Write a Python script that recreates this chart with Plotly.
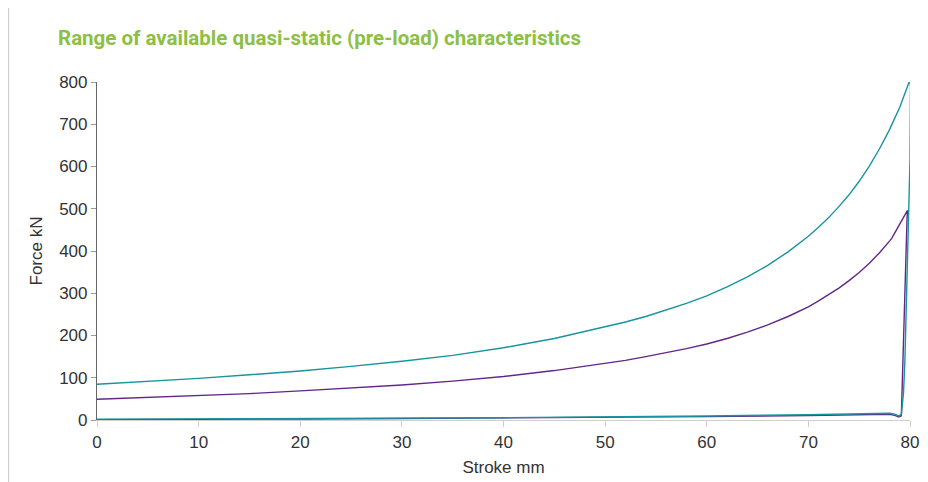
import plotly.graph_objects as go

# ---- data ----
# Teal series: upper (loading) curve, steep ramp, lower (return) line
teal_upper_x = [0, 5, 10, 15, 20, 25, 30, 35, 40, 45, 50, 52, 54, 56, 58, 60, 62, 64, 66, 68, 70, 71, 72, 73, 74, 75, 76, 77, 78, 79.0, 79.4, 79.7, 79.9, 80.0]
teal_upper_y = [84.5, 91, 98.5, 107, 116, 127, 139, 153, 171, 193, 220, 232, 245, 260, 276, 294, 315, 339, 366, 398, 435, 456, 479, 505, 533, 565, 601, 642, 688, 741, 768, 788, 799, 801]
teal_ramp_x = [80.05, 80.0, 79.8, 79.5, 79.36, 79.15]
teal_ramp_y = [790, 615, 400, 142, 64, 14]
teal_lower_x = [78.9, 78.5, 78, 75, 70, 60, 50, 40, 30, 20, 10, 0]
teal_lower_y = [9.5, 14, 16, 14.5, 12.5, 9.5, 7, 5.5, 4.5, 3.5, 2.5, 2]

# Purple series
purple_upper_x = [0, 5, 10, 15, 20, 25, 30, 35, 40, 45, 50, 52, 54, 56, 58, 60, 62, 64, 66, 68, 70, 71, 72, 73, 74, 75, 76, 77, 78, 78.2, 78.6, 79.0, 79.3, 79.55, 79.75]
purple_upper_y = [49, 53, 57.5, 62.5, 69, 75.5, 83, 92, 103, 117, 133, 141, 150, 159, 169, 180, 193, 208, 225, 245, 268, 282, 296, 312, 330, 349, 371, 396, 424, 430, 447, 465, 478, 489, 496]
purple_ramp_x = [79.7, 79.35, 79.15]
purple_ramp_y = [470, 142, 10]
purple_lower_x = [78.9, 78.5, 78, 75, 70, 60, 50, 40, 30, 20, 10, 0]
purple_lower_y = [7, 11, 13.5, 12, 10.5, 8, 6, 4.5, 3.5, 2.5, 1.5, 0.8]

x_ticks = [0, 10, 20, 30, 40, 50, 60, 70, 80]
y_ticks = [0, 100, 200, 300, 400, 500, 600, 700, 800]

TITLE = "Range of available quasi-static (pre-load) characteristics"
X_TITLE = "Stroke mm"
Y_TITLE = "Force kN"

TEAL = "#17949f"
PURPLE = "#63268a"
GREEN = "#8cc043"
LABEL_FONT = "Liberation Sans, Arial, sans-serif"

# The page body adds an 8px offset; the figure is sized/placed to compensate.
W, H, OFF = 920, 474, 8

fig = go.Figure()
fig.add_trace(go.Scatter(
    x=purple_upper_x + purple_ramp_x + purple_lower_x,
    y=purple_upper_y + purple_ramp_y + purple_lower_y,
    mode="lines", line=dict(color=PURPLE, width=1.4), hoverinfo="skip", showlegend=False))
fig.add_trace(go.Scatter(
    x=teal_upper_x + teal_ramp_x + teal_lower_x,
    y=teal_upper_y + teal_ramp_y + teal_lower_y,
    mode="lines", line=dict(color=TEAL, width=1.4), hoverinfo="skip", showlegend=False))

fig.update_layout(
    width=W, height=H,
    margin=dict(l=97 - OFF, r=18, t=82 - OFF, b=62, autoexpand=False),
    paper_bgcolor="white", plot_bgcolor="white",
    font=dict(family=LABEL_FONT, size=17, color="#333333"),
    title=dict(text=TITLE, x=(58 - OFF) / W, xref="container", xanchor="left",
               y=1 - (38 - OFF) / H, yref="container", yanchor="middle",
               font=dict(family="Roboto, Arial, sans-serif", size=20.5, color=GREEN, weight="bold")),
    xaxis=dict(range=[0, 80], tickvals=x_ticks, showgrid=False, zeroline=False,
               showline=True, linecolor="#cfcfcf", linewidth=1.2,
               ticks="outside", ticklen=6, tickcolor="#cfcfcf", tickwidth=1,
               title=dict(text=X_TITLE, standoff=10, font=dict(size=17))),
    yaxis=dict(range=[0, 800], tickvals=y_ticks, showgrid=False, zeroline=False,
               showline=True, linecolor="#666666", linewidth=1.2,
               ticks="outside", ticklen=5, tickcolor="#9a9a9a", tickwidth=1,
               title=dict(text=Y_TITLE, standoff=12, font=dict(size=17))),
)

# page border line on the left (at window x = 8, i.e. figure x ~ 0.6)
fig.add_shape(type="line", xref="paper", yref="paper",
              x0=(0.6 - (97 - OFF)) / 813, x1=(0.6 - (97 - OFF)) / 813,
              y0=-0.3, y1=1.3,
              line=dict(color="#d0d0d0", width=1.2))

fig.write_html("out.html")
